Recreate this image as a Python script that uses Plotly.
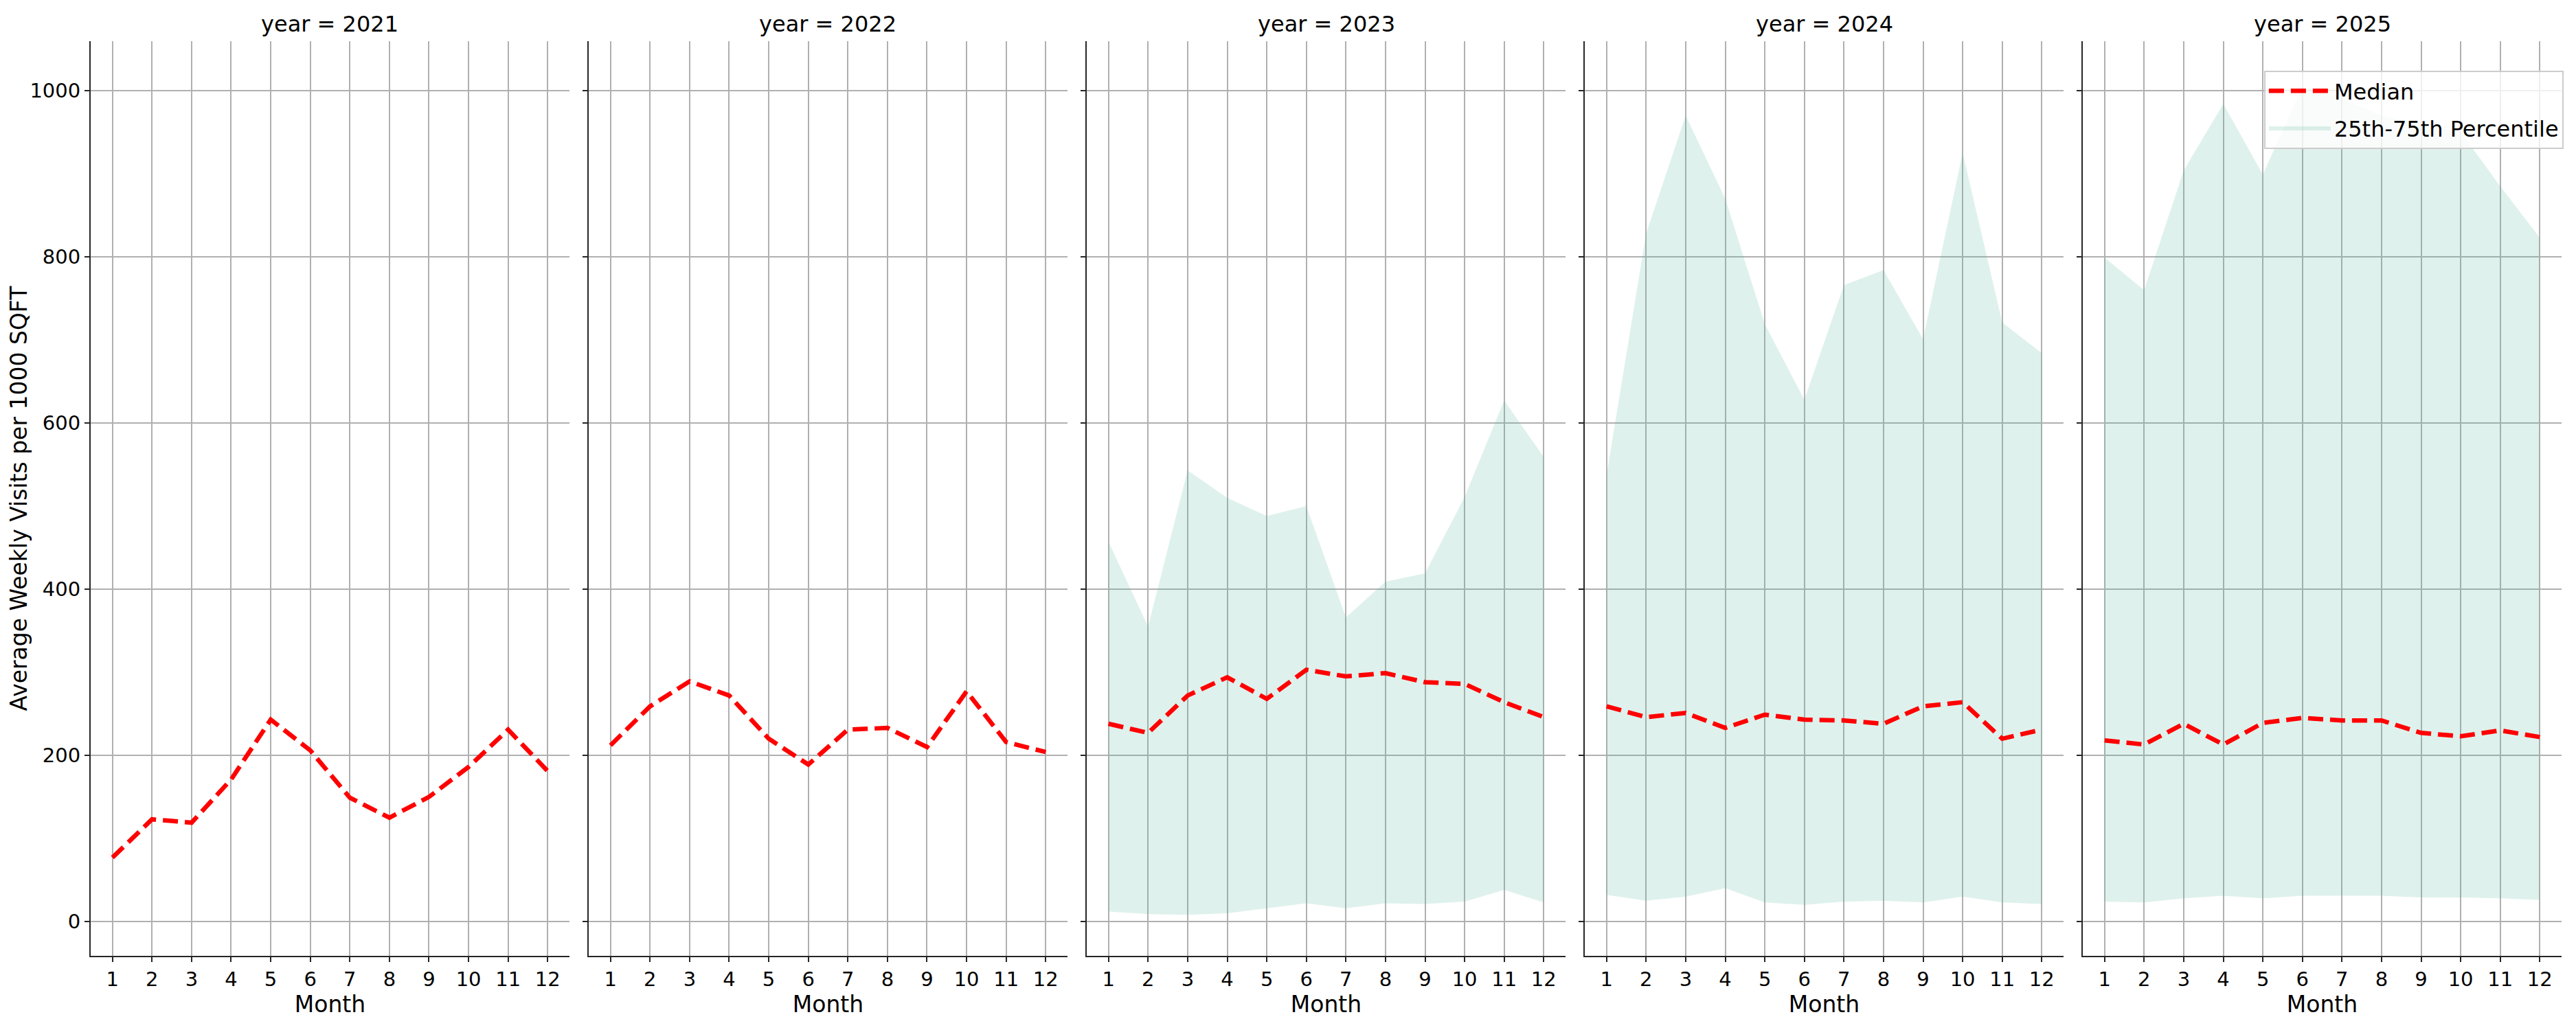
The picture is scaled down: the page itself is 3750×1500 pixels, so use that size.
"""median weekly visits per month, one panel per year"""
from plotly.subplots import make_subplots
from plotly.graph_objects import Scatter

# donnees
years = [2021, 2022, 2023, 2024, 2025]
months = [1, 2, 3, 4, 5, 6, 7, 8, 9, 10, 11, 12]

median_2021 = [77, 123, 119, 171, 243, 206, 149, 125, 150, 186, 231, 181]
median_2022 = [212, 259, 289, 272, 220, 189, 231, 233, 210, 277, 216, 204]
median_2023 = [238, 227, 272, 294, 268, 303, 295, 299, 288, 286, 264, 246]
median_2024 = [259, 246, 251, 233, 249, 243, 242, 238, 259, 264, 220, 231]
median_2025 = [218, 213, 238, 213, 239, 245, 242, 242, 227, 223, 230, 222]

p25_2023 = [12, 9, 8, 10, 16, 22, 16, 22, 21, 24, 38, 23]
p75_2023 = [457, 355, 543, 510, 488, 500, 366, 409, 419, 511, 627, 559]
p25_2024 = [32, 25, 30, 40, 23, 20, 24, 25, 23, 30, 23, 21]
p75_2024 = [537, 828, 970, 870, 719, 628, 766, 784, 701, 925, 721, 684]
p25_2025 = [24, 23, 28, 31, 28, 31, 31, 31, 29, 29, 28, 26]
p75_2025 = [799, 760, 904, 984, 899, 1005, 990, 970, 960, 950, 885, 823]

medians = {2021: median_2021, 2022: median_2022, 2023: median_2023,
           2024: median_2024, 2025: median_2025}
bands = {2023: (p25_2023, p75_2023), 2024: (p25_2024, p75_2024),
         2025: (p25_2025, p75_2025)}

FONT = "DejaVu Sans"
GRID = "#b0b0b0"
SPINE = "#262626"


def build_figure():
    """construit la figure a 5 panneaux"""
    fig = make_subplots(rows=1, cols=len(years), shared_yaxes=True,
                        horizontal_spacing=0.0078,
                        subplot_titles=["year = " + str(y) for y in years])

    for i, year in enumerate(years):
        col = i + 1
        last = year == years[-1]
        if year in bands:
            low, high = bands[year]
            # bande 25-75 : polygone ferme haut + bas inverse
            fig.add_trace(Scatter(x=months + months[::-1], y=high + low[::-1],
                                  fill="toself", mode="none",
                                  fillcolor="rgba(95,185,160,0.2)",
                                  name="25th-75th Percentile",
                                  legendgroup="band", legendrank=2,
                                  showlegend=last, hoverinfo="skip"),
                          row=1, col=col)
        fig.add_trace(Scatter(x=months, y=medians[year], mode="lines",
                              line=dict(color="red", width=6.5, dash="22px,10px"),
                              name="Median", legendgroup="median", legendrank=1,
                              showlegend=last),
                      row=1, col=col)

        fig.update_xaxes(range=[0.45, 12.55], tickmode="array", tickvals=months,
                         ticktext=[str(m) for m in months],
                         title=dict(text="Month", standoff=4,
                                    font=dict(size=33)),
                         row=1, col=col)

    fig.update_xaxes(showgrid=True, gridcolor=GRID, gridwidth=2,
                     showline=True, linecolor=SPINE, linewidth=2,
                     ticks="outside", ticklen=7, tickwidth=2, tickcolor=SPINE,
                     tickfont=dict(size=29), zeroline=False)
    fig.update_yaxes(range=[-41.3, 1059.5], tickvals=[0, 200, 400, 600, 800, 1000],
                     showgrid=True, gridcolor=GRID, gridwidth=2,
                     showline=True, linecolor=SPINE, linewidth=2,
                     ticks="outside", ticklen=7, tickwidth=2, tickcolor=SPINE,
                     tickfont=dict(size=29), zeroline=False)
    fig.update_yaxes(title=dict(text="Average Weekly Visits per 1000 SQFT",
                                standoff=12, font=dict(size=33)),
                     row=1, col=1)

    for ann in fig.layout.annotations:
        ann.font = dict(size=32, family=FONT, color="black")
        ann.yshift = 4

    # la page html ajoute ~8px de marge : on decale la zone de trace
    fig.update_layout(
        width=3750, height=1500,
        margin=dict(l=124, r=29, t=52, b=116, autoexpand=False),
        plot_bgcolor="white", paper_bgcolor="white",
        font=dict(family=FONT, color="black", size=29),
        legend=dict(x=1.0008, y=0.9677, xanchor="right", yanchor="top",
                    bgcolor="rgba(255,255,255,0.8)", bordercolor="#cccccc",
                    borderwidth=2, font=dict(size=32), itemwidth=90,
                    tracegroupgap=10),
    )
    return fig


def main():
    fig = build_figure()
    fig.write_html("out.html")


if __name__ == "__main__":
    main()
